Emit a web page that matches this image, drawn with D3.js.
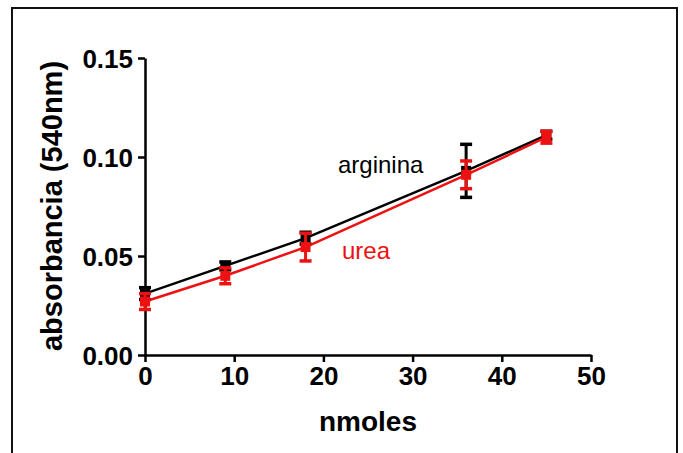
<!DOCTYPE html>
<html>
<head>
<meta charset="utf-8">
<script src="https://cdn.jsdelivr.net/npm/d3@7"></script>
<style>
  body { margin: 0; background: #fff; }
  svg { display: block; font-family: "Liberation Sans", Arial, sans-serif; }
</style>
</head>
<body>
<div id="chart"></div>
<script>
// ---------------- data ----------------
const nmoles = [0, 9, 18, 36, 45];
const argininaMean = [0.031, 0.045, 0.059, 0.093, 0.111];
const argininaErr  = [0.003, 0.002, 0.003, 0.0134, 0.002];
const ureaMean = [0.027, 0.040, 0.0545, 0.091, 0.110];
const ureaErr  = [0.004, 0.004, 0.007, 0.007, 0.003];
const xTicks = [0, 10, 20, 30, 40, 50];
const yTicks = [0, 0.05, 0.10, 0.15];

// ---------------- svg ----------------
const width = 683, height = 453;
const svg = d3.select("#chart").append("svg")
  .attr("width", width).attr("height", height);

// outer frame
svg.append("rect")
  .attr("x", 12).attr("y", 8)
  .attr("width", 665).attr("height", 460)
  .attr("fill", "none").attr("stroke", "#111").attr("stroke-width", 2);

const x = d3.scaleLinear().domain([0, 50]).range([145, 591]);
const y = d3.scaleLinear().domain([0, 0.15]).range([355, 58]);

// axes
const xAxis = d3.axisBottom(x).tickValues(xTicks).tickSize(7).tickSizeOuter(0).tickPadding(4)
  .tickFormat(d3.format("d"));
const yAxis = d3.axisLeft(y).tickValues(yTicks).tickSize(7).tickSizeOuter(0).tickPadding(5)
  .tickFormat(d3.format(".2f"));

const gx = svg.append("g").attr("transform", "translate(0,355)").call(xAxis);
const gy = svg.append("g").attr("transform", "translate(145,0)").call(yAxis);
[gx, gy].forEach(g => {
  g.select(".domain").attr("stroke", "#000").attr("stroke-width", 2.5);
  g.selectAll(".tick line").attr("stroke", "#000").attr("stroke-width", 2.5);
  g.selectAll(".tick text").attr("fill", "#000")
    .style("font-size", "26px").style("font-weight", "bold");
});
gx.selectAll(".tick text").attr("dy", "0.72em");
gy.selectAll(".tick text").attr("dy", "0.36em");

// axis titles
svg.append("text")
  .attr("x", 368).attr("y", 431)
  .attr("text-anchor", "middle")
  .style("font-size", "28px").style("font-weight", "bold")
  .text("nmoles");

svg.append("text")
  .attr("transform", "translate(62,206) rotate(-90)")
  .attr("text-anchor", "middle")
  .style("font-size", "29px").style("font-weight", "bold")
  .text("absorbancia (540nm)");

// ---------------- series ----------------
const series = [
  { name: "arginina", color: "#000", mean: argininaMean, err: argininaErr },
  { name: "urea", color: "#ee1111", mean: ureaMean, err: ureaErr }
];

const line = d3.line().x(d => x(d.x)).y(d => y(d.m));

series.forEach(s => {
  const pts = nmoles.map((v, i) => ({ x: v, m: s.mean[i], e: s.err[i] }));
  const g = svg.append("g");
  g.append("path").datum(pts)
    .attr("d", line).attr("fill", "none")
    .attr("stroke", s.color).attr("stroke-width", 2.5);

  const eb = g.selectAll(".eb").data(pts).enter().append("g");
  eb.append("line")
    .attr("x1", d => x(d.x)).attr("x2", d => x(d.x))
    .attr("y1", d => y(d.m - d.e)).attr("y2", d => y(d.m + d.e))
    .attr("stroke", s.color).attr("stroke-width", 3);
  [-1, 1].forEach(sg => {
    eb.append("line")
      .attr("x1", d => x(d.x) - 6).attr("x2", d => x(d.x) + 6)
      .attr("y1", d => y(d.m + sg * d.e)).attr("y2", d => y(d.m + sg * d.e))
      .attr("stroke", s.color).attr("stroke-width", 3.5);
  });
  eb.append("rect")
    .attr("x", d => x(d.x) - 5).attr("y", d => y(d.m) - 5)
    .attr("width", 10).attr("height", 10)
    .attr("fill", s.color);
});

// series labels
svg.append("text").attr("x", 338).attr("y", 173)
  .style("font-size", "24px").attr("fill", "#000").text("arginina");
svg.append("text").attr("x", 342).attr("y", 259)
  .style("font-size", "24px").attr("fill", "#ee1111").text("urea");
</script>
</body>
</html>
